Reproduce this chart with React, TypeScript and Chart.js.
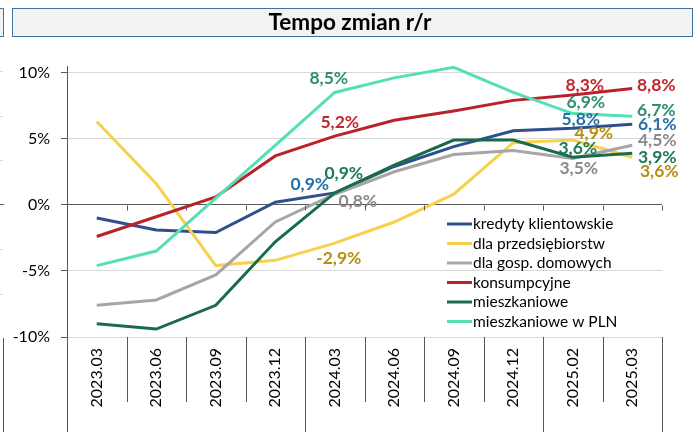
import { useEffect, useRef } from 'react';
import { Chart, registerables } from 'chart.js';

Chart.register(...registerables);

const CATEGORIES = ['2023.03', '2023.06', '2023.09', '2023.12', '2024.03', '2024.06', '2024.09', '2024.12', '2025.02', '2025.03'];
const Y_TICKS = [-10, -5, 0, 5, 10];

const SERIES_NAMES = ['kredyty klientowskie', 'dla przedsiębiorstw', 'dla gosp. domowych', 'konsumpcyjne', 'mieszkaniowe', 'mieszkaniowe w PLN'];

const KREDYTY = [-1.0, -1.9, -2.1, 0.2, 0.9, 2.9, 4.4, 5.6, 5.8, 6.1];
const PRZEDSIEBIORSTWA = [6.3, 1.6, -4.6, -4.2, -2.9, -1.3, 0.8, 4.7, 4.9, 3.6];
const GOSP_DOMOWE = [-7.6, -7.2, -5.3, -1.3, 0.8, 2.5, 3.8, 4.1, 3.5, 4.5];
const KONSUMPCYJNE = [-2.4, -0.9, 0.6, 3.7, 5.2, 6.4, 7.1, 7.9, 8.3, 8.8];
const MIESZKANIOWE = [-9.0, -9.4, -7.6, -2.8, 0.9, 3.0, 4.9, 4.9, 3.6, 3.9];
const MIESZKANIOWE_PLN = [-4.6, -3.5, 0.5, 4.5, 8.5, 9.6, 10.4, 8.5, 6.9, 6.7];

const SERIES_VALUES = [KREDYTY, PRZEDSIEBIORSTWA, GOSP_DOMOWE, KONSUMPCYJNE, MIESZKANIOWE, MIESZKANIOWE_PLN];

// styles
const LINE_COLORS = ['#2e4f8c', '#f7d04c', '#a6a6a6', '#b9222b', '#186c4c', '#55dfb6'];
const LABEL_COLORS = ['#2470a8', '#b38f12', '#8a8a8a', '#c0272d', '#1e7a55', '#2e8f70'];
const FONT = 'Lato, "Open Sans", sans-serif';

// data-label placement: series index, point index, offset from the point (px)
const LABEL_SPOTS = [
  { s: 0, i: 4, dx: -25, dy: -9 },
  { s: 4, i: 4, dx: 9, dy: -20 },
  { s: 2, i: 4, dx: 23, dy: 7 },
  { s: 1, i: 4, dx: 4, dy: 15 },
  { s: 3, i: 4, dx: 5, dy: -14 },
  { s: 5, i: 4, dx: -6, dy: -14 },
  { s: 3, i: 8, dx: 12, dy: -10 },
  { s: 5, i: 8, dx: 13, dy: -11 },
  { s: 0, i: 8, dx: 8, dy: -9 },
  { s: 1, i: 8, dx: 21, dy: -7 },
  { s: 4, i: 8, dx: 5, dy: -9 },
  { s: 2, i: 8, dx: 6, dy: 10 },
  { s: 3, i: 9, dx: 24, dy: -3 },
  { s: 5, i: 9, dx: 24, dy: -6 },
  { s: 0, i: 9, dx: 25, dy: 0 },
  { s: 2, i: 9, dx: 25, dy: -5 },
  { s: 4, i: 9, dx: 25, dy: 4 },
  { s: 1, i: 9, dx: 27, dy: 14 },
];

const fmt = (v: number) => v.toFixed(1).replace('.', ',') + '%';

const decorPlugin = {
  id: 'decor',
  beforeDraw(chart: any) {
    const ctx = chart.ctx;
    ctx.save();
    ctx.fillStyle = '#ffffff';
    ctx.fillRect(0, 0, chart.width, chart.height);
    ctx.restore();
  },
  afterDraw(chart: any) {
    const ctx = chart.ctx;
    const area = chart.chartArea;
    const yScale = chart.scales.y;
    const n = CATEGORIES.length;
    const step = (area.right - area.left) / n;
    const y0 = Math.round(yScale.getPixelForValue(0)) + 0.5;
    const yBottom = area.bottom;
    ctx.save();
    // ticks below zero line
    ctx.strokeStyle = '#595959';
    ctx.lineWidth = 1;
    for (let k = 1; k <= n; k++) {
      const x = Math.round(area.left + k * step) + 0.5;
      ctx.beginPath();
      ctx.moveTo(x, y0);
      ctx.lineTo(x, y0 + 5);
      ctx.stroke();
    }
    // category separators below the plot
    for (let k = 0; k <= n; k++) {
      const x = Math.round(area.left + k * step) + 0.5;
      const long = k === 0 || k === 4 || k === 8 || k === n;
      ctx.beginPath();
      ctx.moveTo(x, yBottom);
      ctx.lineTo(x, long ? chart.height : yBottom + 65);
      ctx.stroke();
    }
    // title box
    ctx.fillStyle = '#f2f2f2';
    ctx.fillRect(12, 8, 680, 28);
    ctx.strokeStyle = '#41719c';
    ctx.strokeRect(12.5, 8.5, 680, 28);
    ctx.fillStyle = '#000';
    ctx.font = `bold 22.5px ${FONT}`;
    ctx.textAlign = 'center';
    ctx.textBaseline = 'middle';
    ctx.fillText('Tempo zmian r/r', 350, 23);
    // left remnants of a neighbouring panel
    ctx.fillStyle = '#f2f2f2';
    ctx.fillRect(0, 8, 3, 28);
    ctx.strokeStyle = '#41719c';
    ctx.beginPath();
    ctx.moveTo(0, 8.5);
    ctx.lineTo(3.5, 8.5);
    ctx.lineTo(3.5, 36.5);
    ctx.lineTo(0, 36.5);
    ctx.stroke();
    ctx.strokeStyle = '#d9d9d9';
    [71, 116, 160, 249, 294].forEach((yy) => {
      ctx.beginPath();
      ctx.moveTo(0, yy + 0.5);
      ctx.lineTo(3, yy + 0.5);
      ctx.stroke();
    });
    ctx.strokeStyle = '#595959';
    ctx.beginPath();
    ctx.moveTo(0, 204.5);
    ctx.lineTo(4, 204.5);
    ctx.stroke();
    ctx.beginPath();
    ctx.moveTo(3.5, 338);
    ctx.lineTo(3.5, chart.height);
    ctx.stroke();
    // legend
    ctx.font = `15.5px ${FONT}`;
    ctx.textAlign = 'left';
    ctx.textBaseline = 'middle';
    SERIES_NAMES.forEach((name, idx) => {
      const yy = 224 + idx * 19.5;
      ctx.strokeStyle = LINE_COLORS[idx];
      ctx.lineWidth = 3;
      ctx.beginPath();
      ctx.moveTo(447, yy);
      ctx.lineTo(472, yy);
      ctx.stroke();
      ctx.fillStyle = '#000';
      ctx.fillText(name, 473, yy);
    });
    ctx.restore();
  },
  afterDatasetsDraw(chart: any) {
    const ctx = chart.ctx;
    ctx.save();
    ctx.font = `bold 17.5px ${FONT}`;
    ctx.textAlign = 'center';
    ctx.textBaseline = 'middle';
    LABEL_SPOTS.forEach(({ s, i, dx, dy }) => {
      const meta = chart.getDatasetMeta(s);
      const pt = meta.data[i];
      ctx.fillStyle = LABEL_COLORS[s];
      ctx.fillText(fmt(SERIES_VALUES[s][i]), pt.x + dx, pt.y + dy);
    });
    ctx.restore();
  },
};

export default function App() {
  const ref = useRef<HTMLCanvasElement>(null);
  useEffect(() => {
    document.body.style.margin = '0';
    const chart = new Chart(ref.current!, {
      type: 'line',
      data: {
        labels: CATEGORIES,
        datasets: SERIES_VALUES.map((vals, idx) => ({
          label: SERIES_NAMES[idx],
          data: vals,
          borderColor: LINE_COLORS[idx],
          backgroundColor: LINE_COLORS[idx],
          borderWidth: 3,
          pointRadius: 0,
          tension: 0,
          fill: false,
          order: SERIES_VALUES.length - idx,
        })),
      },
      options: {
        responsive: false,
        animation: false,
        devicePixelRatio: 1,
        layout: { padding: { top: 66, right: 37, left: 0, bottom: 0 } },
        plugins: { legend: { display: false }, tooltip: { enabled: false } },
        scales: {
          x: {
            type: 'category',
            offset: true,
            grid: { display: false, drawTicks: false },
            border: { display: false },
            ticks: {
              minRotation: 90,
              maxRotation: 90,
              autoSkip: false,
              padding: 11,
              color: '#000',
              font: { family: FONT, size: 16 },
            },
            afterFit: (s: any) => {
              s.height = 95;
            },
          },
          y: {
            min: -10,
            max: 10.5,
            afterBuildTicks: (s: any) => {
              s.ticks = Y_TICKS.map((v) => ({ value: v }));
            },
            grid: {
              color: (c: any) => (c.tick && c.tick.value === 0 ? '#595959' : '#d9d9d9'),
              tickColor: '#595959',
              tickLength: 6,
              lineWidth: 1,
            },
            border: { display: true, color: '#595959' },
            ticks: {
              callback: (v: any) => v + '%',
              padding: 11,
              color: '#000',
              font: { family: FONT, size: 16 },
            },
            afterFit: (s: any) => {
              s.width = 67;
            },
          },
        },
      },
      plugins: [decorPlugin],
    });
    return () => chart.destroy();
  }, []);
  return (
    <div style={{ width: 699, height: 432 }}>
      <canvas ref={ref} width={699} height={432} style={{ display: 'block', width: 699, height: 432 }} />
    </div>
  );
}
